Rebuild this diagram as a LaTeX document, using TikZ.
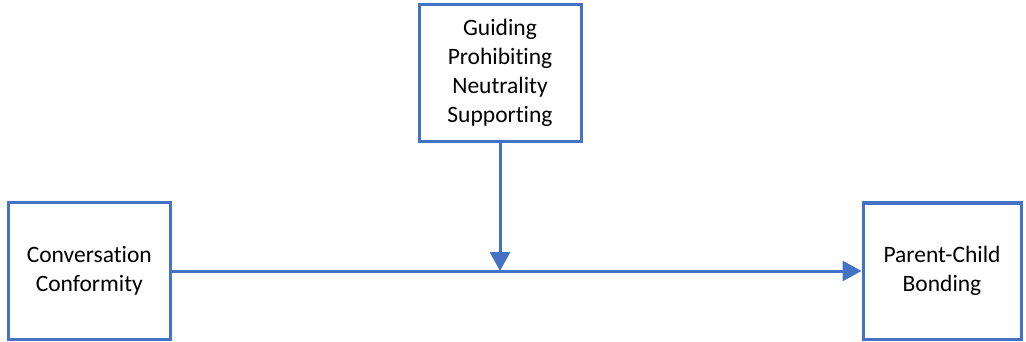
\documentclass[tikz,border=0pt]{standalone}
\usepackage{fontspec}
\setmainfont{Carlito}[Ligatures={NoCommon,NoContextual}]
\usetikzlibrary{arrows.meta}
\definecolor{boxblue}{HTML}{4472C4}
\begin{document}
\begin{tikzpicture}[x=1pt,y=-1pt,
  box/.style={draw=boxblue,line width=3pt,fill=white,align=center,
    font=\fontsize{23.5}{29}\selectfont,inner sep=0pt},
  link/.style={draw=boxblue,line width=3pt,
    -{Triangle[length=19pt,width=20pt]}}]
  \useasboundingbox (0,0) rectangle (1026,342);
  % moderator, predictor and outcome
  \node[box,minimum width=162pt,minimum height=137pt] (mod) at (500,72.8)
    {Guiding\\Prohibiting\\Neutrality\\Supporting};
  \node[box,minimum width=161.5pt,minimum height=137pt] (pred) at (89.3,271)
    {Conversation\\Conformity};
  \node[box,minimum width=158pt,minimum height=136pt] (out) at (942,271)
    {Parent-Child\\Bonding};
  \coordinate (join) at (500,271);
  % main path and moderating effect
  \draw[link] (pred.east) -- (out.west);
  \draw[link] (mod.south) -- (join);
\end{tikzpicture}
\end{document}
